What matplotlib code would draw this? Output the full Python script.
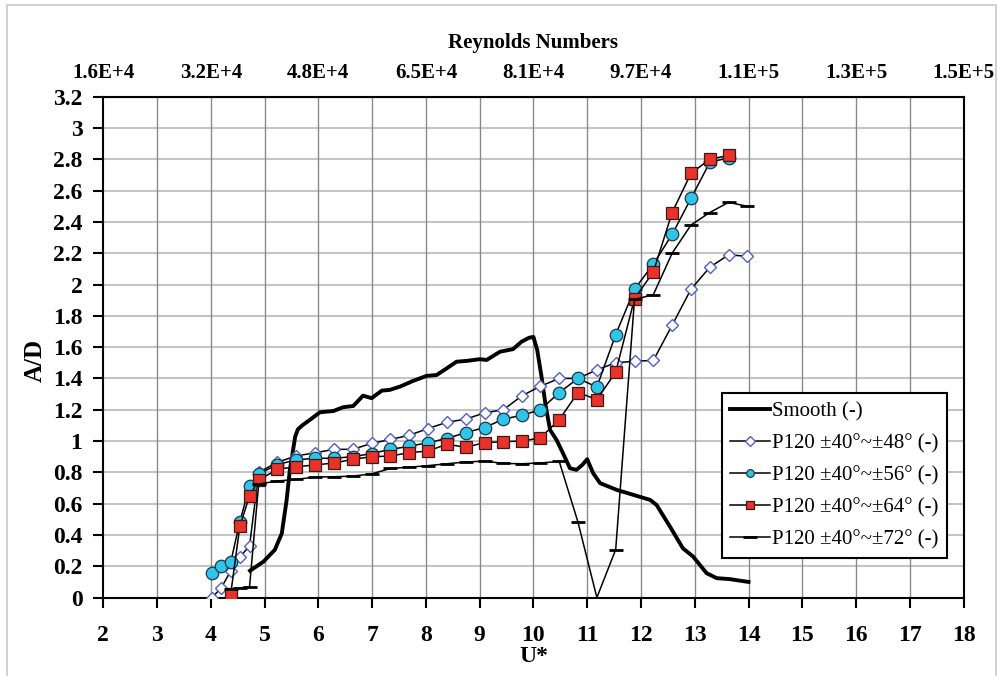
import numpy as np
import matplotlib
matplotlib.use('Agg')
import matplotlib.pyplot as plt
from matplotlib.patches import Rectangle

plt.rcParams['font.family'] = ['Liberation Serif', 'DejaVu Serif']

# 数据
u_all = [4.02, 4.19, 4.37, 4.54, 4.72, 4.89, 5.24, 5.59, 5.94, 6.29, 6.64, 6.99,
         7.34, 7.69, 8.04, 8.39, 8.74, 9.09, 9.44, 9.79, 10.13, 10.48, 10.83,
         11.18, 11.53, 11.88, 12.23, 12.58, 12.93, 13.28, 13.63, 13.97]

ad_48 = [0.0, 0.06, 0.17, 0.26, 0.33, 0.80, 0.865, 0.905, 0.925, 0.947, 0.947, 0.985,
         1.01, 1.037, 1.08, 1.12, 1.14, 1.18, 1.20, 1.29, 1.35, 1.40, 1.40,
         1.455, 1.50, 1.51, 1.515, 1.74, 1.97, 2.11, 2.19, 2.18]

u_56 = u_all[:31]
ad_56 = [0.154, 0.20, 0.226, 0.486, 0.71, 0.79, 0.85, 0.88, 0.89, 0.89, 0.90, 0.92,
         0.947, 0.966, 0.99, 1.016, 1.054, 1.086, 1.14, 1.165, 1.20, 1.31, 1.40,
         1.345, 1.68, 1.97, 2.13, 2.32, 2.55, 2.78, 2.81]

u_64 = u_all[2:31]
ad_64 = [0.024, 0.456, 0.65, 0.75, 0.82, 0.836, 0.847, 0.86, 0.883, 0.90,
         0.904, 0.926, 0.936, 0.98, 0.96, 0.99, 0.996, 1.0, 1.02, 1.137, 1.31,
         1.265, 1.44, 1.91, 2.08, 2.46, 2.71, 2.80, 2.825]

u_72 = u_all[2:]
ad_72 = [0.055, 0.062, 0.07, 0.725, 0.745, 0.755, 0.77, 0.772, 0.776, 0.79,
         0.825, 0.833, 0.843, 0.855, 0.866, 0.872, 0.857, 0.855, 0.86, 0.87, 0.48,
         0.0, 0.307, 1.905, 1.935, 2.20, 2.38, 2.46, 2.525, 2.50]

u_smooth = [4.73, 4.98, 5.19, 5.32, 5.41, 5.47, 5.53, 5.57, 5.62, 5.70, 5.84, 6.03,
            6.28, 6.46, 6.65, 6.83, 6.99, 7.18, 7.33, 7.52, 7.76, 8.01, 8.20, 8.39,
            8.57, 8.76, 9.00, 9.13, 9.38, 9.62, 9.78, 9.92, 10.0, 10.07, 10.15,
            10.23, 10.31, 10.43, 10.55, 10.68, 10.80, 10.91, 11.0, 11.11, 11.24,
            11.55, 11.86, 12.17, 12.29, 12.54, 12.78, 12.97, 13.22, 13.41, 13.65, 14.0]
ad_smooth = [0.172, 0.23, 0.305, 0.41, 0.624, 0.816, 0.944, 1.03, 1.075, 1.10, 1.135, 1.184,
             1.192, 1.216, 1.224, 1.29, 1.274, 1.322, 1.327, 1.348, 1.384, 1.416, 1.422, 1.465,
             1.507, 1.512, 1.523, 1.518, 1.571, 1.587, 1.635, 1.66, 1.665, 1.582, 1.412,
             1.22, 1.071, 1.007, 0.922, 0.826, 0.816, 0.848, 0.884, 0.795, 0.731,
             0.688, 0.656, 0.624, 0.592, 0.453, 0.315, 0.262, 0.156, 0.124, 0.118, 0.10]

re_ticks = [2, 4, 6, 8, 10, 12, 14, 16, 18]
re_labels = ['1.6E+4', '3.2E+4', '4.8E+4', '6.5E+4', '8.1E+4', '9.7E+4', '1.1E+5', '1.3E+5', '1.5E+5']

fig = plt.figure(figsize=(9.98, 6.76), dpi=100)
ax = fig.add_axes([0.1035, 0.116, 0.862, 0.741])

# 外框
fig.patches.append(Rectangle((0.007, -0.01), 0.991, 1.003, transform=fig.transFigure,
                             fill=False, edgecolor='#c8c8c8', linewidth=1.2))

for v in np.arange(0.2, 3.2, 0.2):
    ax.axhline(v, color='#c4c4c4', linewidth=1.5, zorder=0)
for v in range(3, 18):
    ax.axvline(v, color='#8a8a8a', linewidth=1.0, zorder=0)

ax.plot(u_smooth, ad_smooth, color='black', linewidth=2.8, label='Smooth (-)', zorder=2)
ax.plot(u_all, ad_48, color='black', linewidth=1.1, marker='D', markersize=6.3,
        markerfacecolor='white', markeredgecolor='#5060c8', markeredgewidth=1.0,
        label='P120 ±40°~±48° (-)', zorder=3)
ax.plot(u_56, ad_56, color='black', linewidth=1.1, marker='o', markersize=9,
        markerfacecolor='#2fc4e8', markeredgecolor='#1a3a4a', markeredgewidth=0.9,
        label='P120 ±40°~±56° (-)', zorder=4)
ax.plot(u_64, ad_64, color='black', linewidth=1.1, marker='s', markersize=9,
        markerfacecolor='#e8322a', markeredgecolor='#3a1a1a', markeredgewidth=0.9,
        label='P120 ±40°~±64° (-)', zorder=5)
ax.plot(u_72, ad_72, color='black', linewidth=1.1, marker='_', markersize=10,
        markeredgewidth=2.0, label='P120 ±40°~±72° (-)', zorder=6)

ax.set_xlim(2, 18)
ax.set_ylim(0, 3.2)
ax.set_xticks(range(2, 19))
ax.set_yticks(np.arange(0, 3.21, 0.2))
ax.set_yticklabels(['0', '0.2', '0.4', '0.6', '0.8', '1', '1.2', '1.4', '1.6', '1.8',
                    '2', '2.2', '2.4', '2.6', '2.8', '3', '3.2'])
ax.tick_params(axis='both', direction='out', length=7, width=1.5, labelsize=17)
ax.tick_params(axis='x', pad=13)
ax.tick_params(axis='y', pad=8)
for lab in ax.get_xticklabels() + ax.get_yticklabels():
    lab.set_fontweight('bold')
for s in ax.spines.values():
    s.set_linewidth(1.5)

ax.set_xlabel('U*', fontsize=17, fontweight='bold', labelpad=0)
ax.set_ylabel('A/D', fontsize=18, fontweight='bold')
ax.yaxis.set_label_coords(-0.066, 0.474)

top = ax.secondary_xaxis('top')
top.set_xticks(re_ticks)
top.set_xticklabels(re_labels, fontsize=15, fontweight='bold')
top.tick_params(length=0, pad=10)
top.set_xlabel('Reynolds Numbers', fontsize=15, fontweight='bold', labelpad=11)

leg = ax.legend(loc='lower left', bbox_to_anchor=(0.719, 0.079), borderaxespad=0,
                fontsize=15, frameon=True, fancybox=False, framealpha=1,
                edgecolor='black', handlelength=1.9, handletextpad=0.1,
                labelspacing=0.6, borderpad=0.4)
leg.get_frame().set_linewidth(1.5)
for h in leg.legend_handles[1:4]:
    h.set_markersize(5.5)

plt.savefig('out.png', dpi=100)
